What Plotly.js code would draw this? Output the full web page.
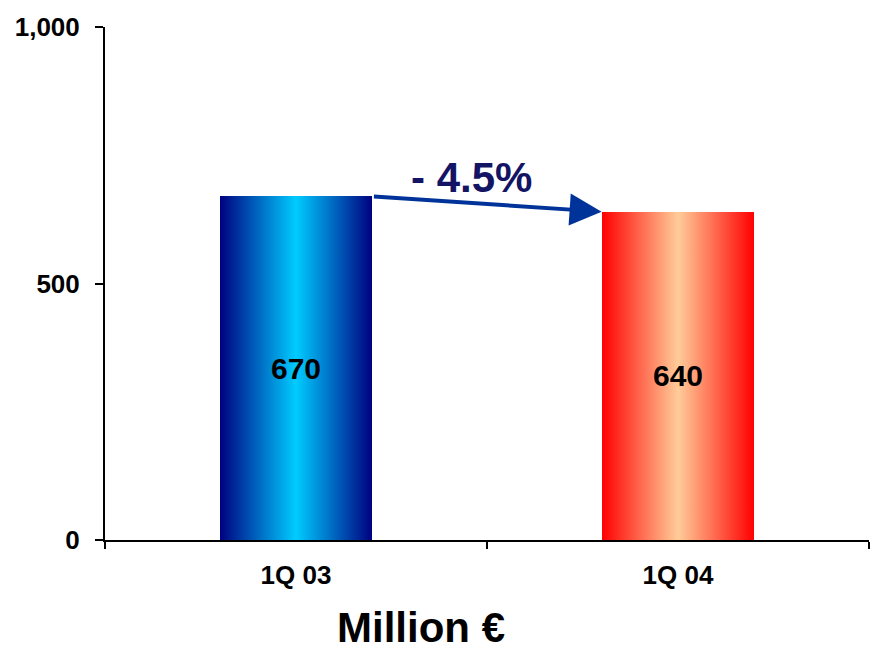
<!DOCTYPE html>
<html>
<head>
<meta charset="utf-8">
<script src="https://cdn.plot.ly/plotly-3.0.1.min.js"></script>
<style>
  html, body { margin: 0; padding: 0; background: #ffffff; }
  #chart { width: 870px; height: 653px; }
</style>
</head>
<body>
<div id="chart"></div>
<script>
// ---- data ----
const categories = ["1Q 03", "1Q 04"];
const values = [670, 640];
const yTickValues = [0, 500, 1000];
const unitLabel = "Million €";

// ---- derived ----
const pctChange = (values[1] - values[0]) / values[0] * 100;
const pctText = (pctChange < 0 ? "- " : "+ ") + Math.abs(pctChange).toFixed(1) + "%";
const barWidth = 0.4;

const FONT = '"Liberation Sans", Arial, sans-serif';

const trace = {
  type: "bar",
  x: categories,
  y: values,
  width: barWidth,
  marker: { color: ["#00ccff", "#ffcc99"], line: { width: 0 } },
  text: values.map(v => String(v)),
  textposition: "inside",
  insidetextanchor: "middle",
  textfont: { family: FONT, size: 30, color: "#000000", weight: 700 },
  hoverinfo: "x+y",
  showlegend: false
};

const layout = {
  width: 870,
  height: 653,
  margin: { l: 105, r: 1, t: 27, b: 113 },
  paper_bgcolor: "#ffffff",
  plot_bgcolor: "#ffffff",
  font: { family: FONT, color: "#000000" },
  bargap: 0,
  xaxis: {
    type: "category",
    range: [-0.5, categories.length - 0.5],
    showline: true,
    linecolor: "#000000",
    linewidth: 2,
    ticks: "outside",
    tickson: "boundaries",
    ticklen: 7,
    tickwidth: 2,
    tickcolor: "#000000",
    showgrid: false,
    zeroline: false,
    tickfont: { family: FONT, size: 26, color: "#000000", weight: 700 },
    ticklabelstandoff: 11
  },
  yaxis: {
    range: [0, 1000],
    tickvals: yTickValues,
    tickformat: ",",
    showline: true,
    linecolor: "#000000",
    linewidth: 2,
    ticks: "outside",
    ticklen: 8,
    tickwidth: 2,
    tickcolor: "#000000",
    showgrid: false,
    zeroline: false,
    tickfont: { family: FONT, size: 26, color: "#000000", weight: 700 },
    ticklabelstandoff: 10
  },
  annotations: [
    {
      // arrow from right edge of first bar to left edge of second bar
      xref: "x", yref: "y", axref: "x", ayref: "y",
      x: 1 - barWidth / 2, y: values[1],
      ax: 0 + barWidth / 2, ay: values[0],
      text: "",
      showarrow: true,
      arrowhead: 2,
      arrowsize: 1.6,
      arrowwidth: 4,
      arrowcolor: "#003399",
      standoff: 0,
      startstandoff: 0
    },
    {
      xref: "x", yref: "y",
      x: 0.46, y: (values[0] + values[1]) / 2 + 52,
      text: pctText,
      showarrow: false,
      font: { family: FONT, size: 42, color: "#141464", weight: 700 },
      xanchor: "center", yanchor: "middle"
    },
    {
      xref: "paper", yref: "paper",
      x: (421 - 105) / 764, y: -87 / 513,
      text: unitLabel,
      showarrow: false,
      borderpad: 0,
      font: { family: FONT, size: 42, color: "#000000", weight: 700 },
      xanchor: "center", yanchor: "middle"
    }
  ]
};

function applyGradients(gd) {
  const svg = gd.querySelector("svg.main-svg");
  if (!svg) return;
  const ns = "http://www.w3.org/2000/svg";
  let defs = svg.querySelector("defs#bar-grads");
  if (!defs) {
    defs = document.createElementNS(ns, "defs");
    defs.setAttribute("id", "bar-grads");
    svg.insertBefore(defs, svg.firstChild);
    const grads = [
      { id: "gradBlue", stops: [["0%", "#000080"], ["50%", "#00ccff"], ["100%", "#000080"]] },
      { id: "gradRed", stops: [["0%", "#ff0000"], ["50%", "#ffcc99"], ["100%", "#ff0000"]] }
    ];
    grads.forEach(g => {
      const lg = document.createElementNS(ns, "linearGradient");
      lg.setAttribute("id", g.id);
      lg.setAttribute("x1", "0"); lg.setAttribute("y1", "0");
      lg.setAttribute("x2", "1"); lg.setAttribute("y2", "0");
      g.stops.forEach(s => {
        const st = document.createElementNS(ns, "stop");
        st.setAttribute("offset", s[0]);
        st.setAttribute("stop-color", s[1]);
        lg.appendChild(st);
      });
      defs.appendChild(lg);
    });
  }
  const paths = gd.querySelectorAll(".barlayer .trace.bars .point path");
  const ids = ["gradBlue", "gradRed"];
  paths.forEach((p, i) => {
    p.style.fill = "url(#" + ids[i % ids.length] + ")";
  });
}

const gd = document.getElementById("chart");
Plotly.newPlot(gd, [trace], layout, { displayModeBar: false, staticPlot: true }).then(() => {
  applyGradients(gd);
});
</script>
</body>
</html>
